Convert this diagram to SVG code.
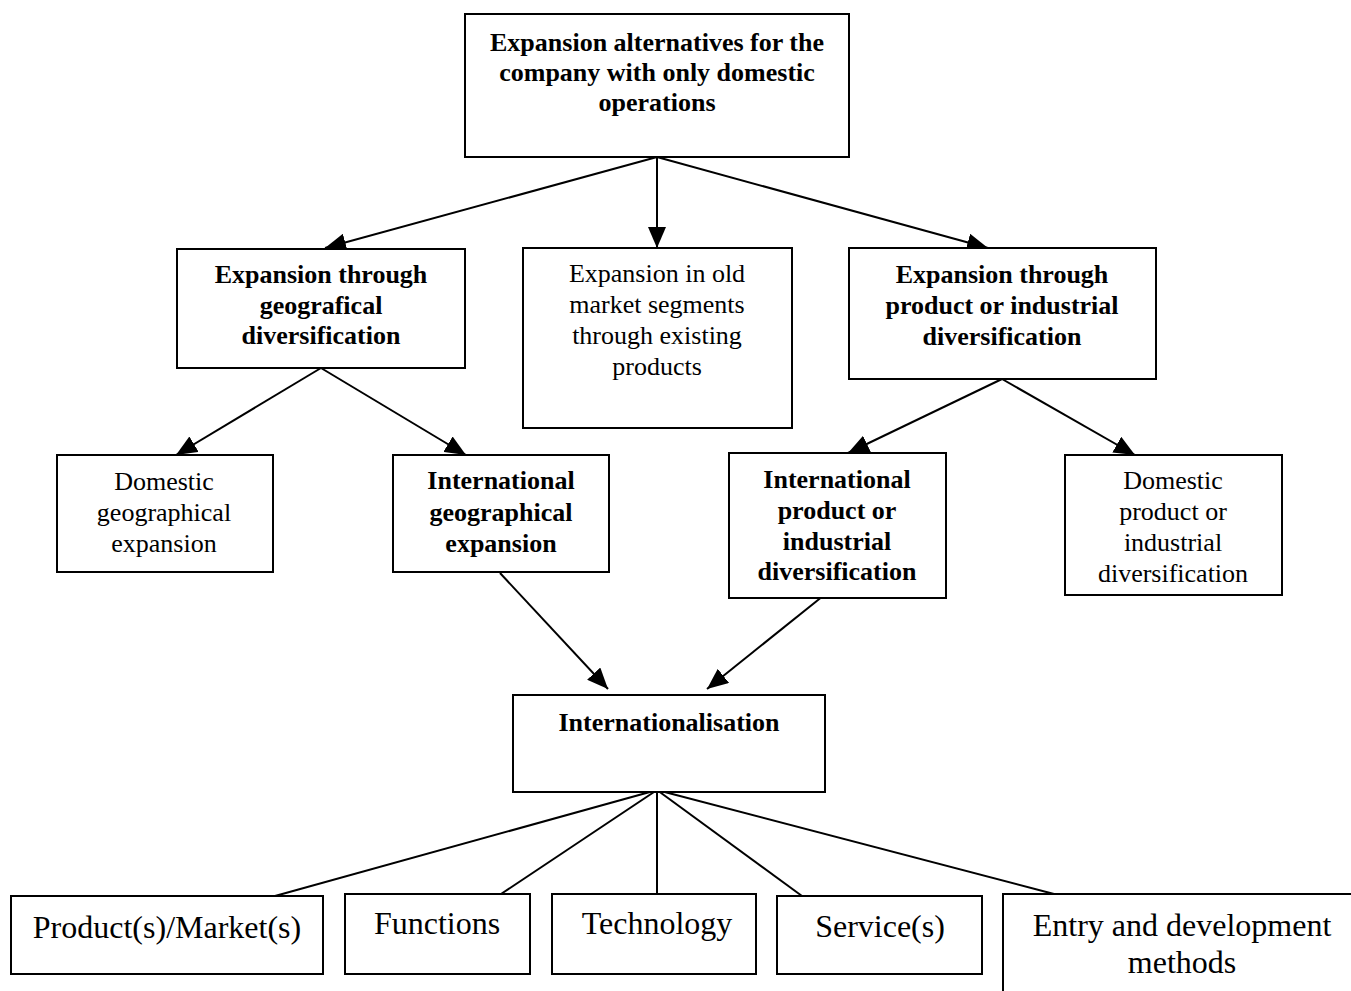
<svg xmlns="http://www.w3.org/2000/svg" width="1351" height="991" viewBox="0 0 1351 991">
  <style>
    .box { fill: #ffffff; stroke: #000000; stroke-width: 2; }
    .edge { stroke: #000000; stroke-width: 2; fill: none; }
    .arrow { marker-end: url(#head); }
    text { font-family: "Liberation Serif", "Times New Roman", serif; fill: #000000; text-anchor: middle; }
    .b { font-size: 26px; font-weight: bold; }
    .r { font-size: 26px; }
    .lg { font-size: 32px; }
  </style>
  <defs>
    <marker id="head" markerUnits="userSpaceOnUse" viewBox="0 0 21 18" markerWidth="21" markerHeight="18" refX="21" refY="9" orient="auto">
      <path d="M0,0 L21,9 L0,18 z" fill="#000000"/>
    </marker>
  </defs>
  <rect width="1351" height="991" fill="#ffffff"/>

  <!-- connectors -->
  <g id="connectors">
    <line class="edge arrow" x1="657" y1="157" x2="325" y2="248"/>
    <line class="edge arrow" x1="657" y1="157" x2="657" y2="248"/>
    <line class="edge arrow" x1="657" y1="157" x2="988" y2="248"/>
    <line class="edge arrow" x1="321" y1="368" x2="176" y2="455"/>
    <line class="edge arrow" x1="321" y1="368" x2="466" y2="455"/>
    <line class="edge arrow" x1="1002" y1="379" x2="848" y2="453"/>
    <line class="edge arrow" x1="1002" y1="379" x2="1135" y2="455"/>
    <line class="edge arrow" x1="500" y1="573" x2="608" y2="689"/>
    <line class="edge arrow" x1="823" y1="596" x2="707" y2="689"/>
    <line class="edge" x1="657" y1="790" x2="275" y2="896"/>
    <line class="edge" x1="657" y1="790" x2="501" y2="894"/>
    <line class="edge" x1="657" y1="790" x2="657" y2="894"/>
    <line class="edge" x1="657" y1="790" x2="802" y2="896"/>
    <line class="edge" x1="657" y1="790" x2="1054" y2="894"/>
  </g>

  <g id="root">
    <rect class="box" x="465" y="14" width="384" height="143"/>
    <text class="b" x="657" y="51">Expansion alternatives for the</text>
    <text class="b" x="657" y="81">company with only domestic</text>
    <text class="b" x="657" y="111">operations</text>
  </g>

  <g id="geo-div">
    <rect class="box" x="177" y="249" width="288" height="119"/>
    <text class="b" x="321" y="283">Expansion through</text>
    <text class="b" x="321" y="314">geografical</text>
    <text class="b" x="321" y="344">diversification</text>
  </g>

  <g id="old-segments">
    <rect class="box" x="523" y="248" width="269" height="180"/>
    <text class="r" x="657" y="282">Expansion in old</text>
    <text class="r" x="657" y="313">market segments</text>
    <text class="r" x="657" y="344">through existing</text>
    <text class="r" x="657" y="375">products</text>
  </g>

  <g id="prod-div">
    <rect class="box" x="849" y="248" width="307" height="131"/>
    <text class="b" x="1002" y="283">Expansion through</text>
    <text class="b" x="1002" y="314">product or industrial</text>
    <text class="b" x="1002" y="345">diversification</text>
  </g>

  <g id="dom-geo">
    <rect class="box" x="57" y="455" width="216" height="117"/>
    <text class="r" x="164" y="490">Domestic</text>
    <text class="r" x="164" y="521">geographical</text>
    <text class="r" x="164" y="552">expansion</text>
  </g>

  <g id="intl-geo">
    <rect class="box" x="393" y="455" width="216" height="117"/>
    <text class="b" x="501" y="489">International</text>
    <text class="b" x="501" y="521">geographical</text>
    <text class="b" x="501" y="552">expansion</text>
  </g>

  <g id="intl-prod">
    <rect class="box" x="729" y="453" width="217" height="145"/>
    <text class="b" x="837" y="488">International</text>
    <text class="b" x="837" y="519">product or</text>
    <text class="b" x="837" y="550">industrial</text>
    <text class="b" x="837" y="580">diversification</text>
  </g>

  <g id="dom-prod">
    <rect class="box" x="1065" y="455" width="217" height="140"/>
    <text class="r" x="1173" y="489">Domestic</text>
    <text class="r" x="1173" y="520">product or</text>
    <text class="r" x="1173" y="551">industrial</text>
    <text class="r" x="1173" y="582">diversification</text>
  </g>

  <g id="internationalisation">
    <rect class="box" x="513" y="695" width="312" height="97"/>
    <text class="b" x="669" y="731">Internationalisation</text>
  </g>

  <g id="products-markets">
    <rect class="box" x="11" y="896" width="312" height="78"/>
    <text class="lg" x="167" y="938">Product(s)/Market(s)</text>
  </g>

  <g id="functions">
    <rect class="box" x="345" y="894" width="185" height="80"/>
    <text class="lg" x="437" y="934">Functions</text>
  </g>

  <g id="technology">
    <rect class="box" x="552" y="894" width="204" height="80"/>
    <text class="lg" x="657" y="934">Technology</text>
  </g>

  <g id="services">
    <rect class="box" x="777" y="896" width="205" height="78"/>
    <text class="lg" x="880" y="937">Service(s)</text>
  </g>

  <g id="entry-methods">
    <rect class="box" x="1003" y="894" width="400" height="150"/>
    <text class="lg" x="1182" y="936">Entry and development</text>
    <text class="lg" x="1182" y="973">methods</text>
  </g>
</svg>
